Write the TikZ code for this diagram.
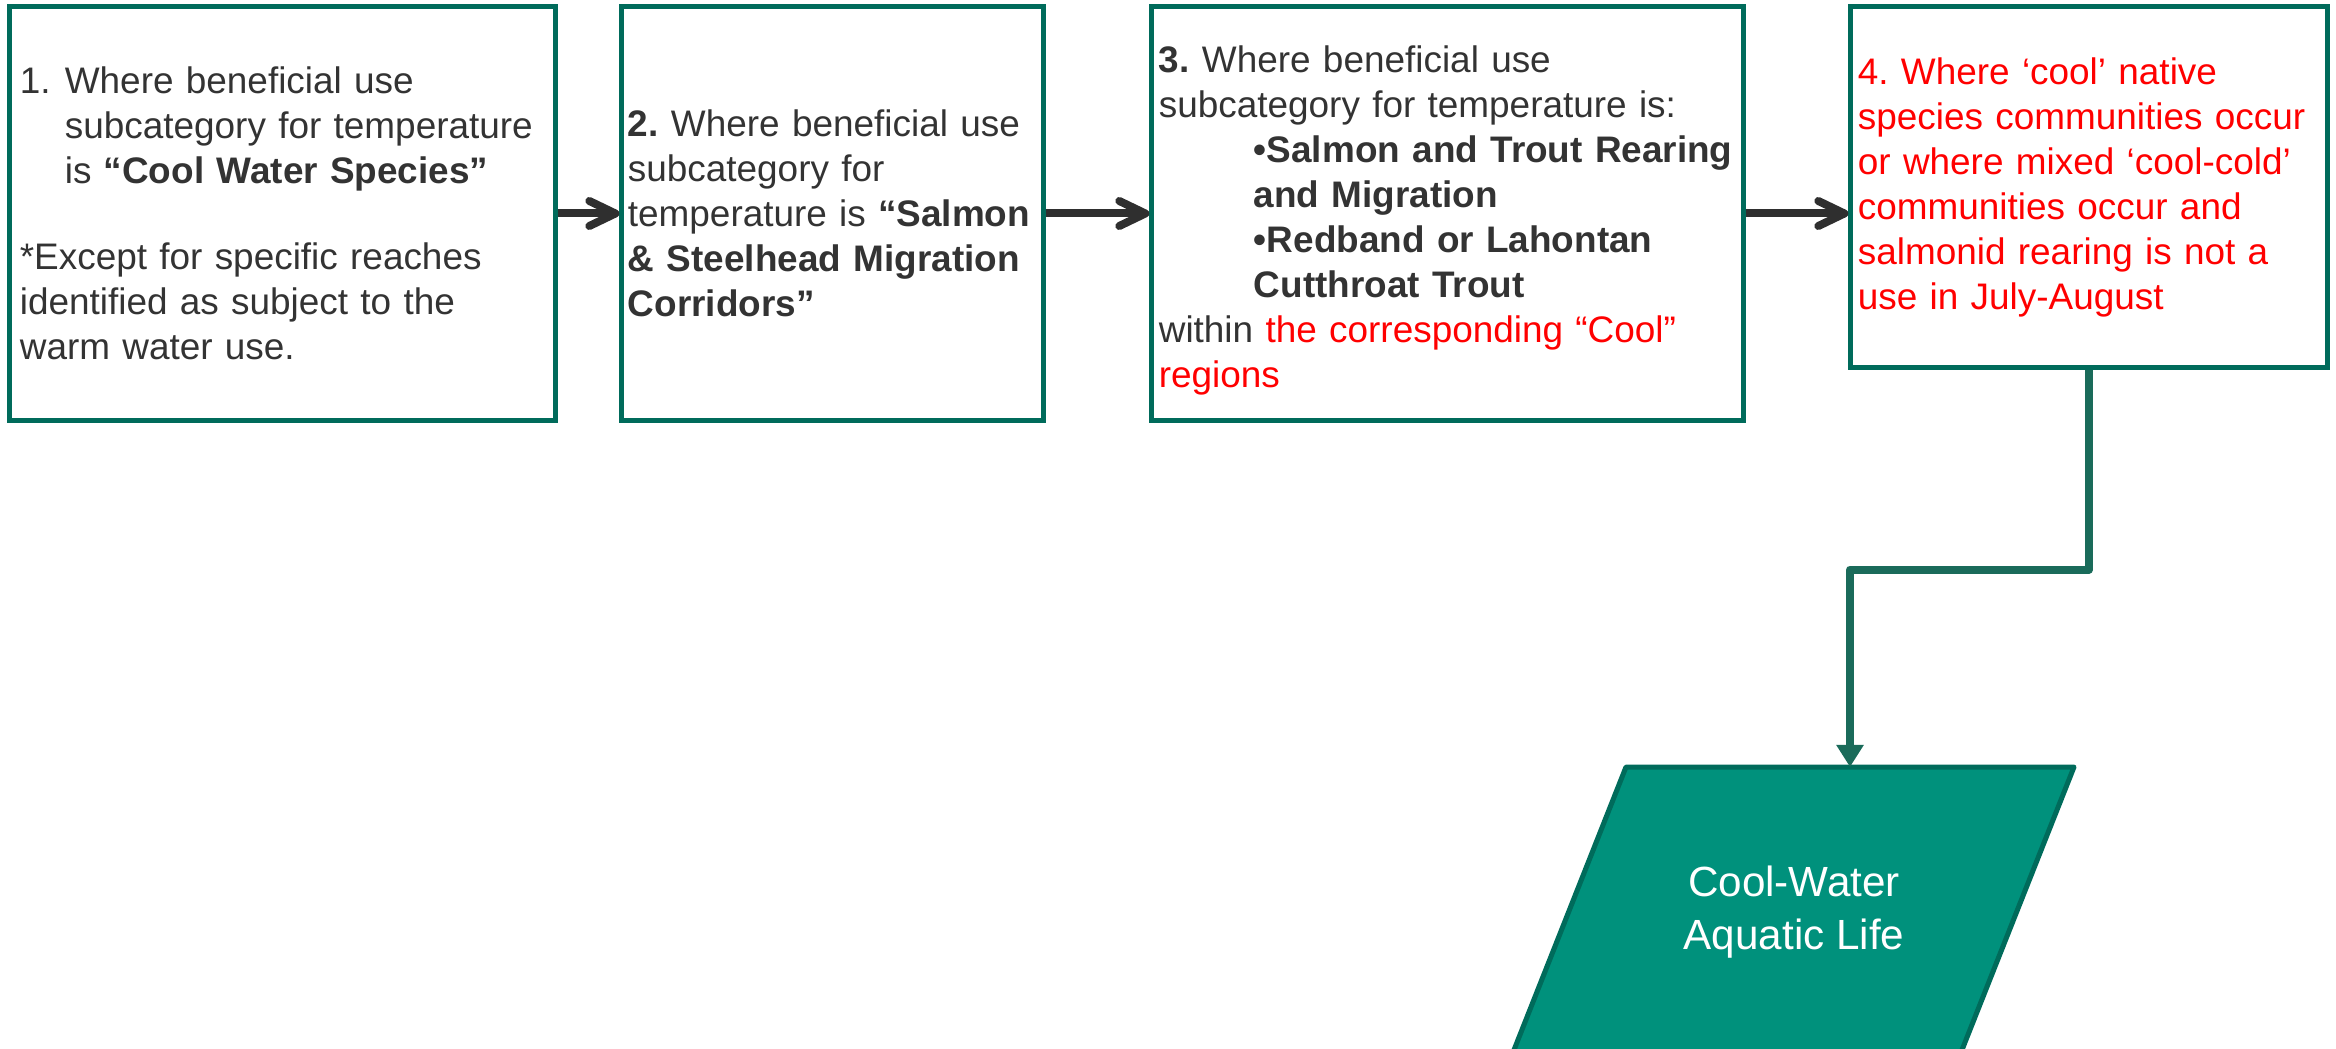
\documentclass[tikz,border=0pt]{standalone}
\usepackage{fontspec}
\setmainfont{Liberation Sans}
\usetikzlibrary{arrows.meta}
\definecolor{boxline}{RGB}{0,107,91}
\definecolor{linkline}{RGB}{26,107,90}
\definecolor{outfill}{RGB}{0,145,124}
\definecolor{textgray}{RGB}{51,51,51}
\definecolor{arrowgray}{RGB}{47,47,47}
\begin{document}
\begin{tikzpicture}[x=0.01cm, y=-0.01cm,
    stepbox/.style={draw=boxline, line width=0.05cm, rectangle, inner ysep=0pt,
        align=left, text=textgray, font=\fontsize{10.5}{12.8}\selectfont\frenchspacing},
    flow/.style={draw=arrowgray, line width=0.08cm,
        -{Straight Barb[length=0.26cm, width=0.25cm, round]}},
    link/.style={draw=linkline, line width=0.08cm, line join=round,
        -{Triangle[length=0.22cm, width=0.26cm]}}]
    % page
    \useasboundingbox (0,0) rectangle (2336,1049);

    % boxes
    \node[stepbox, minimum width=5.45cm, minimum height=4.13cm,
        inner xsep=0.1cm, text width=5.25cm] (b1) at (282.5,213.5)
        {\hangindent=0.45cm\hangafter=1\makebox[0.45cm][l]{1.}Where beneficial use\newline
         subcategory for temperature\newline
         is \textbf{“Cool Water Species”}\par
         \vspace{0.41cm}*Except for specific reaches\\
         identified as subject to the\\
         warm water use.};
    \node[stepbox, minimum width=4.21cm, minimum height=4.13cm,
        inner xsep=0.06cm, text width=4.09cm] (b2) at (832.5,213.5)
        {\textbf{2.} Where beneficial use\\
         subcategory for\\
         temperature is \textbf{“Salmon}\\
         \textbf{\& Steelhead Migration}\\
         \textbf{Corridors”}};
    \node[stepbox, minimum width=5.91cm, minimum height=4.13cm,
        inner xsep=0.07cm, text width=5.77cm] (b3) at (1447.5,213.5)
        {\rule{0pt}{0.41cm}\textbf{3.} Where beneficial use\\
         subcategory for temperature is:\\
         \hspace*{0.95cm}\textbf{•Salmon and Trout Rearing}\\
         \hspace*{0.95cm}\textbf{and Migration}\\
         \hspace*{0.95cm}\textbf{•Redband or Lahontan}\\
         \hspace*{0.95cm}\textbf{Cutthroat Trout}\\
         within \textcolor{red}{the corresponding “Cool”}\\
         \textcolor{red}{regions}};
    \node[stepbox, text=red, minimum width=4.76cm, minimum height=3.60cm,
        inner xsep=0.07cm, text width=4.62cm] (b4) at (2089,187)
        {4. Where ‘cool’ native\\
         species communities occur\\
         or where mixed ‘cool-cold’\\
         communities occur and\\
         salmonid rearing is not a\\
         use in July-August};

    % result
    \filldraw[fill=outfill, draw=boxline, line width=0.05cm, line join=round]
        (1626,767) -- (2074,767) -- (1958,1060) -- (1510,1060) -- cycle;
    \coordinate (cwtop) at (1850,767);
    \node[text=white, align=center, font=\fontsize{12}{15.1}\selectfont]
        (cw) at (1794,912) {Cool-Water\\Aquatic Life};

    % arrows
    \draw[flow] (b1.east) -- (b2.west);
    \draw[flow] (b2.east) -- (b3.west);
    \draw[flow] (b3.east) -- (b3.east -| b4.west);
    \draw[link] (b4.south) -- ++(0,200) -| (cwtop);
\end{tikzpicture}
\end{document}
